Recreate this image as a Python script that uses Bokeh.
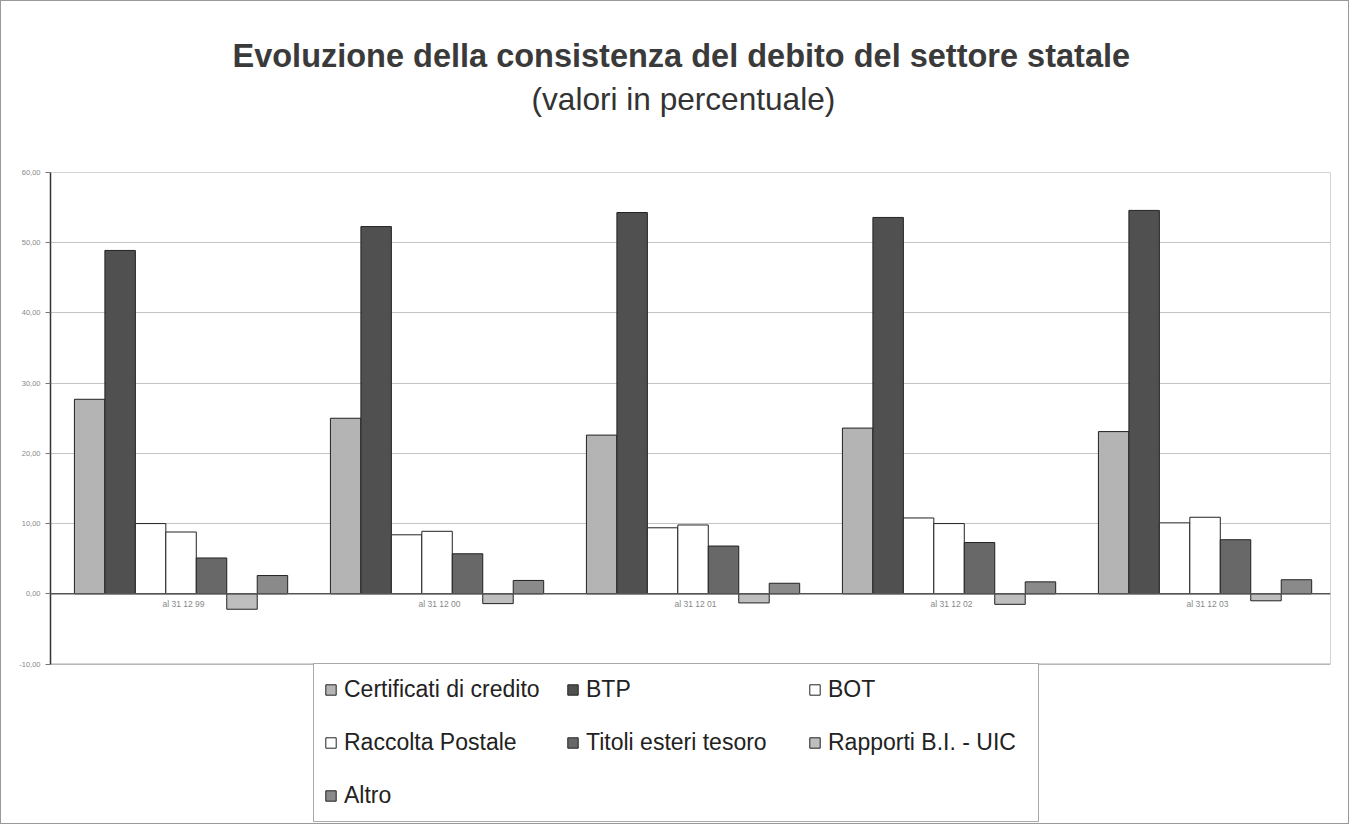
from bokeh.plotting import figure
from bokeh.models import (FactorRange, Range1d, FixedTicker, Legend, LegendItem,
                          Title, ColumnDataSource, Span)
from bokeh.transform import dodge
from bokeh.core.properties import value
from bokeh.embed import file_html
from bokeh.resources import INLINE

# ---- data ----
dates = ["al 31 12 99", "al 31 12 00", "al 31 12 01", "al 31 12 02", "al 31 12 03"]
series_names = ["Certificati di credito", "BTP", "BOT", "Raccolta Postale",
                "Titoli esteri tesoro", "Rapporti B.I. - UIC", "Altro"]
cct = [27.7, 25.0, 22.6, 23.6, 23.1]
btp = [48.9, 52.3, 54.3, 53.6, 54.6]
bot = [10.0, 8.4, 9.4, 10.8, 10.1]
raccolta = [8.8, 8.9, 9.8, 10.0, 10.9]
esteri = [5.1, 5.7, 6.8, 7.3, 7.7]
rapporti = [-2.2, -1.4, -1.3, -1.5, -1.0]
altro = [2.6, 1.9, 1.5, 1.7, 2.0]
y_ticks = [-10, 0, 10, 20, 30, 40, 50, 60]
y_min, y_max = -10, 60

cols = ["cct", "btp", "bot", "raccolta", "esteri", "rapporti", "altro"]
colors = ["#b4b4b4", "#505050", "#ffffff", "#ffffff", "#686868", "#bebebe", "#8a8a8a"]

src = ColumnDataSource(dict(date=dates, cct=cct, btp=btp, bot=bot, raccolta=raccolta,
                            esteri=esteri, rapporti=rapporti, altro=altro,
                            zero=[0] * len(dates)))

# the frame extends below -10 to leave room for the legend inside the canvas
p = figure(x_range=FactorRange(*dates), y_range=Range1d(-33, y_max),
           width=1349, height=824, output_backend="svg", toolbar_location=None,
           min_border_left=49, min_border_right=20, min_border_top=171,
           min_border_bottom=0, background_fill_color="white",
           border_fill_color="white", outline_line_color=None,
           styles={"border": "1px solid #999999"})

# titles (first added sits closest to the plot)
spacer = Title(text=" ", text_font_size="1px", standoff=50)
p.add_layout(spacer, "above")
sub = Title(text="(valori in percentuale)", align="left", text_font="Liberation Sans",
            text_font_size="31.6px", text_font_style="normal", text_color="#333333",
            standoff=6, offset=481)
p.add_layout(sub, "above")
main = Title(text="Evoluzione della consistenza del debito del settore statale", align="left",
             text_font="Liberation Sans", text_font_size="32.5px",
             text_font_style="bold", text_color="#3a3a3a", standoff=3, offset=182)
p.add_layout(main, "above")

# plot-area box and zero line
p.quad(left=0, right=len(dates), bottom=y_min, top=y_max, fill_color=None,
       line_color="#aaaaaa", line_width=1)
p.add_layout(Span(location=0, dimension="width", line_color="#555555", line_width=1.5))

bw = 0.119
items = []
for k, (c, name, col) in enumerate(zip(cols, series_names, colors)):
    r = p.vbar(x=dodge("date", (k - 3) * bw + 0.01, range=p.x_range), top=c, width=bw,
               source=src, fill_color=col, line_color="#222222", line_width=1)
    items.append(LegendItem(label=name, renderers=[r]))

# axes
p.xaxis.visible = False
p.xgrid.visible = False
p.ygrid.grid_line_color = "#c4c4c4"
p.ygrid.bounds = (0, len(dates))
p.yaxis.bounds = (y_min, y_max)
p.yaxis.ticker = FixedTicker(ticks=y_ticks)
p.yaxis.major_label_overrides = {t: f"{t:.2f}".replace(".", ",") for t in y_ticks}
p.yaxis.major_label_text_font_size = "7.5px"
p.yaxis.major_label_text_color = "#888888"
p.yaxis.axis_line_color = "#333333"
p.yaxis.axis_line_width = 1.5
p.yaxis.major_tick_out = 5
p.yaxis.major_tick_in = 0
p.yaxis.major_tick_line_color = "#777777"
p.yaxis.minor_tick_line_color = None

# category labels at the zero line
p.text(x="date", y="zero", text="date", source=src, text_align="center",
       text_baseline="top", x_offset=5, y_offset=5, text_font_size="8.5px",
       text_color="#888888", text_font=value("Liberation Sans"))

legend = Legend(items=items, location=(263, 3), ncols=3, orientation="horizontal",
                label_text_font="Liberation Sans", label_text_font_size="23px",
                label_text_color="#222222", glyph_width=13, glyph_height=13,
                label_standoff=7, label_width=200, spacing=22, label_height=31,
                padding=10, margin=0,
                border_line_color="#555555", background_fill_color="white",
                background_fill_alpha=1.0)
p.add_layout(legend, "center")

open("out.html", "w").write(file_html(p, INLINE))
